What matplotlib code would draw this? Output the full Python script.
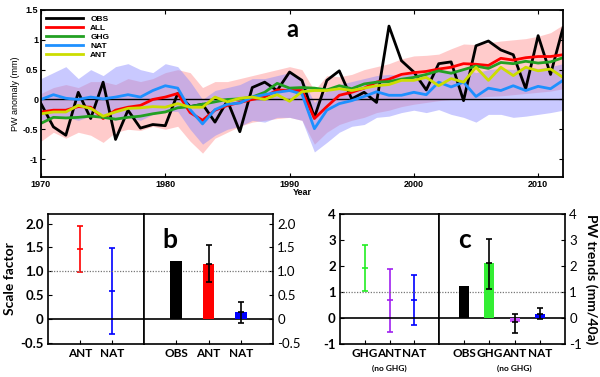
import numpy as np
import matplotlib
matplotlib.use("Agg")
import matplotlib.pyplot as plt

# ---- panel a: PW anomaly time series (mm) ----
years = list(range(1970, 2013))
obs = [-0.07, -0.46, -0.60, 0.12, -0.32, 0.29, -0.67, -0.18, -0.48, -0.42,
       -0.44, 0.10, -0.12, -0.08, -0.38, -0.02, -0.54, 0.20, 0.29, 0.15,
       0.46, 0.32, -0.30, 0.32, 0.48, 0.01, 0.12, -0.05, 1.23, 0.65,
       0.46, 0.16, 0.60, 0.63, -0.02, 0.90, 0.98, 0.83, 0.75, 0.18,
       1.07, 0.42, 1.20]
all_ = [-0.21, -0.18, -0.18, -0.12, -0.13, -0.32, -0.18, -0.13, -0.10, 0.00,
        0.04, 0.10, -0.22, -0.35, -0.18, -0.10, -0.05, 0.00, 0.04, 0.16,
        0.15, 0.15, -0.32, -0.12, 0.07, 0.12, 0.19, 0.29, 0.34, 0.42,
        0.45, 0.47, 0.51, 0.54, 0.60, 0.59, 0.57, 0.69, 0.66, 0.70,
        0.72, 0.72, 0.75]
ghg = [-0.40, -0.30, -0.31, -0.30, -0.28, -0.30, -0.33, -0.30, -0.28, -0.24,
       -0.21, -0.14, -0.12, -0.08, -0.04, 0.00, 0.01, 0.04, 0.12, 0.27,
       0.19, 0.20, 0.19, 0.16, 0.23, 0.18, 0.26, 0.29, 0.30, 0.34,
       0.37, 0.42, 0.48, 0.44, 0.50, 0.56, 0.52, 0.62, 0.60, 0.64,
       0.61, 0.63, 0.70]
nat = [0.00, 0.08, 0.02, 0.00, 0.04, 0.01, 0.04, 0.08, 0.04, 0.15,
       0.23, 0.19, -0.17, -0.41, -0.17, -0.08, -0.06, 0.04, 0.08, 0.12,
       0.15, 0.09, -0.49, -0.18, -0.07, -0.02, 0.05, 0.13, 0.07, 0.07,
       0.12, 0.08, 0.29, 0.21, 0.29, 0.05, 0.19, 0.15, 0.23, 0.15,
       0.22, 0.18, 0.32]
ant = [-0.24, -0.21, -0.21, -0.10, -0.15, -0.28, -0.21, -0.15, -0.14, -0.12,
       -0.13, -0.07, -0.13, -0.13, 0.04, -0.04, 0.02, 0.04, 0.00, 0.08,
       -0.03, 0.13, 0.15, 0.15, 0.18, 0.15, 0.19, 0.23, 0.25, 0.32,
       0.32, 0.37, 0.23, 0.35, 0.29, 0.54, 0.32, 0.54, 0.40, 0.54,
       0.48, 0.51, 0.37]
# spread of model ensembles (ALL pink, NAT blue)
all_hi = [0.10, 0.20, 0.25, 0.20, 0.30, 0.30, 0.25, 0.35, 0.30, 0.35,
          0.45, 0.50, 0.45, 0.20, 0.30, 0.30, 0.35, 0.40, 0.45, 0.50,
          0.55, 0.50, 0.15, 0.40, 0.38, 0.42, 0.50, 0.55, 0.60, 0.68,
          0.73, 0.74, 0.76, 0.85, 0.93, 0.92, 0.95, 0.98, 1.00, 1.02,
          1.06, 1.12, 1.25]
all_lo = [-0.70, -0.55, -0.65, -0.55, -0.60, -0.72, -0.55, -0.50, -0.52, -0.45,
          -0.50, -0.45, -0.70, -0.90, -0.65, -0.55, -0.45, -0.38, -0.35, -0.32,
          -0.30, -0.35, -0.75, -0.55, -0.42, -0.35, -0.30, -0.22, -0.18, -0.12,
          -0.08, -0.05, -0.02, 0.00, 0.02, 0.03, 0.05, 0.06, 0.08, 0.10,
          0.12, 0.14, 0.18]
nat_hi = [0.35, 0.45, 0.55, 0.35, 0.50, 0.40, 0.55, 0.60, 0.50, 0.45,
          0.60, 0.55, 0.30, 0.00, 0.15, 0.20, 0.25, 0.35, 0.35, 0.40,
          0.45, 0.35, -0.05, 0.15, 0.25, 0.30, 0.35, 0.40, 0.42, 0.40,
          0.45, 0.42, 0.50, 0.48, 0.52, 0.45, 0.50, 0.52, 0.50, 0.55,
          0.52, 0.55, 0.60]
nat_lo = [-0.35, -0.30, -0.30, -0.35, -0.28, -0.30, -0.35, -0.30, -0.35, -0.25,
          -0.20, -0.20, -0.50, -0.75, -0.60, -0.50, -0.45, -0.35, -0.38, -0.30,
          -0.30, -0.35, -0.88, -0.72, -0.55, -0.45, -0.42, -0.30, -0.28, -0.22,
          -0.18, -0.22, -0.17, -0.25, -0.30, -0.38, -0.25, -0.25, -0.30, -0.28,
          -0.25, -0.22, -0.18]

# ---- panel b: scale factors ----
b_left_lab = ["ANT", "NAT"]
b_left_best = [1.46, 0.59]
b_left_lo = [0.99, -0.31]
b_left_hi = [1.94, 1.49]
b_left_col = ["#ff0000", "#0000ff"]
b_right_lab = ["OBS", "ANT", "NAT"]
b_right_val = [1.22, 1.16, 0.14]
b_right_lo = [np.nan, 0.78, -0.08]
b_right_hi = [np.nan, 1.55, 0.35]
b_right_col = ["#000000", "#ff0000", "#0000ff"]

# ---- panel c: PW trends (mm/40a) ----
c_left_lab = ["GHG", "ANT", "NAT"]
c_left_best = [1.94, 0.68, 0.70]
c_left_lo = [1.04, -0.53, -0.25]
c_left_hi = [2.82, 1.90, 1.65]
c_left_col = ["#22ee22", "#a020f0", "#0000ff"]
c_right_lab = ["OBS", "GHG", "ANT", "NAT"]
c_right_val = [1.23, 2.10, -0.17, 0.14]
c_right_lo = [np.nan, 1.13, -0.56, -0.05]
c_right_hi = [np.nan, 3.04, 0.17, 0.38]
c_right_col = ["#000000", "#33ee33", "#cc55ff", "#0000ff"]

plt.rcParams['font.family'] = ['Lato', 'DejaVu Sans']

fig = plt.figure(figsize=(6, 3.77), dpi=100)

# ================= panel a =================
ax = fig.add_axes([0.0683, 0.5305, 0.87, 0.443])
ax.fill_between(years, all_lo, all_hi, color="#ff9999", alpha=0.5, lw=0)
ax.fill_between(years, nat_lo, nat_hi, color="#8888ff", alpha=0.45, lw=0)
ax.axhline(0, color="black", lw=1)
ax.plot(years, obs, color="black", lw=2, label="OBS")
ax.plot(years, all_, color="#ff0000", lw=2, label="ALL")
ax.plot(years, ghg, color="#22a022", lw=2, label="GHG")
ax.plot(years, nat, color="#1e90ff", lw=2, label="NAT")
ax.plot(years, ant, color="#ccdd00", lw=2, label="ANT")
ax.set_xlim(1970, 2012)
ax.set_ylim(-1.3, 1.5)
ax.set_xticks([1970, 1980, 1990, 2000, 2010])
ax.set_yticks([-1, -0.5, 0, 0.5, 1, 1.5])
ax.set_yticklabels(["-1", "-0.5", "0", "0.5", "1", "1.5"])
ax.tick_params(direction="in", top=True, right=True, labelsize=6.5, length=3, pad=2)
for t in ax.get_xticklabels() + ax.get_yticklabels():
    t.set_fontweight("bold")
    t.set_family(["Liberation Sans", "DejaVu Sans"])
for s in ax.spines.values():
    s.set_linewidth(1.3)
ax.set_xlabel("Year", fontsize=6.5, fontweight="bold", family=["Liberation Sans"], labelpad=1)
ax.xaxis.set_label_coords(0.5, -0.065)
ax.set_ylabel("PW anomaly (mm)", fontsize=6.5, family=["Liberation Sans"], labelpad=2)
leg = ax.legend(loc="upper left", frameon=False, handlelength=4.5,
                labelspacing=0.15, borderaxespad=0.2, handletextpad=0.8,
                prop={"family": "Liberation Sans", "weight": "bold", "size": 6})
ax.text(0.482, 0.885, "a", transform=ax.transAxes, fontsize=17, fontweight="bold",
        ha="center", va="center")


def style_box(a, ylim, yticks, ylabels):
    a.set_ylim(*ylim)
    a.set_yticks(yticks)
    a.set_yticklabels(ylabels)
    a.axhline(0, color="black", lw=1.2)
    a.axhline(1, color="#777777", lw=0.9, ls=(0, (1, 1.2)))
    a.tick_params(direction="in", labelsize=8.5, length=3, pad=3)
    a.tick_params(axis="y", labelsize=9.5)
    for t in a.get_xticklabels() + a.get_yticklabels():
        t.set_fontweight("bold")
    for s in a.spines.values():
        s.set_linewidth(1.2)


def err_panel(a, labels, best, lo, hi, cols):
    pos = np.arange(1, len(labels) + 1)
    for p, b, l, h, c in zip(pos, best, lo, hi, cols):
        a.errorbar([p], [b], yerr=[[b - l], [h - b]], fmt="_", color=c,
                   ms=5, mew=1.2, elinewidth=1.2, capsize=2, capthick=1.2)
    a.set_xlim(0, len(labels) + 1)
    a.set_xticks(pos)
    a.set_xticklabels(labels)


def bar_panel(a, labels, vals, lo, hi, cols, width):
    pos = np.arange(1, len(labels) + 1)
    a.bar(pos, vals, width=width, color=cols, zorder=3)
    for p, v, l, h in zip(pos, vals, lo, hi):
        if not np.isnan(l):
            a.errorbar([p], [v], yerr=[[v - l], [h - v]], fmt="_", color="black",
                       ms=5, mew=1.2, elinewidth=1.2, capsize=2, capthick=1.2,
                       zorder=4)
    a.set_xlim(0, len(labels) + 1)
    a.set_xticks(pos)
    a.set_xticklabels(labels)


# ================= panel b =================
b_ylim = (-0.52, 2.2)
b_ticks = [-0.5, 0, 0.5, 1.0, 1.5, 2.0]
b_tlab = ["-0.5", "0", "0.5", "1.0", "1.5", "2.0"]
axb1 = fig.add_axes([0.08, 0.0875, 0.16, 0.345])
err_panel(axb1, b_left_lab, b_left_best, b_left_lo, b_left_hi, b_left_col)
style_box(axb1, b_ylim, b_ticks, b_tlab)
axb1.set_ylabel("Scale factor", fontsize=10, fontweight="bold", labelpad=3)

axb2 = fig.add_axes([0.24, 0.0875, 0.215, 0.345])
bar_panel(axb2, b_right_lab, b_right_val, b_right_lo, b_right_hi, b_right_col, 0.36)
style_box(axb2, b_ylim, b_ticks, b_tlab)
axb2.yaxis.tick_right()
axb2.tick_params(axis="y", which="both", left=False)
axb2.text(0.2, 0.8, "b", transform=axb2.transAxes, fontsize=19,
          fontweight="bold", ha="center", va="center")

# ================= panel c =================
c_ylim = (-1, 4)
c_ticks = [-1, 0, 1, 2, 3, 4]
c_tlab = ["-1", "0", "1", "2", "3", "4"]
axc1 = fig.add_axes([0.5667, 0.0875, 0.165, 0.345])
err_panel(axc1, c_left_lab, c_left_best, c_left_lo, c_left_hi, c_left_col)
style_box(axc1, c_ylim, c_ticks, c_tlab)
axc1.text(2, -0.16, "(no GHG)", transform=axc1.get_xaxis_transform(),
          fontsize=6, fontweight="bold", ha="center", va="top")

axc2 = fig.add_axes([0.7317, 0.0875, 0.21, 0.345])
bar_panel(axc2, c_right_lab, c_right_val, c_right_lo, c_right_hi, c_right_col, 0.4)
style_box(axc2, c_ylim, c_ticks, c_tlab)
axc2.yaxis.tick_right()
axc2.yaxis.set_label_position("right")
axc2.tick_params(axis="y", which="both", left=False)
axc2.set_ylabel("PW trends (mm/40a)", fontsize=10, fontweight="bold",
                rotation=-90, labelpad=11)
axc2.text(3, -0.16, "(no GHG)", transform=axc2.get_xaxis_transform(),
          fontsize=6, fontweight="bold", ha="center", va="top")
axc2.text(0.2, 0.8, "c", transform=axc2.transAxes, fontsize=19,
          fontweight="bold", ha="center", va="center")

fig.savefig("out.png", dpi=100)
